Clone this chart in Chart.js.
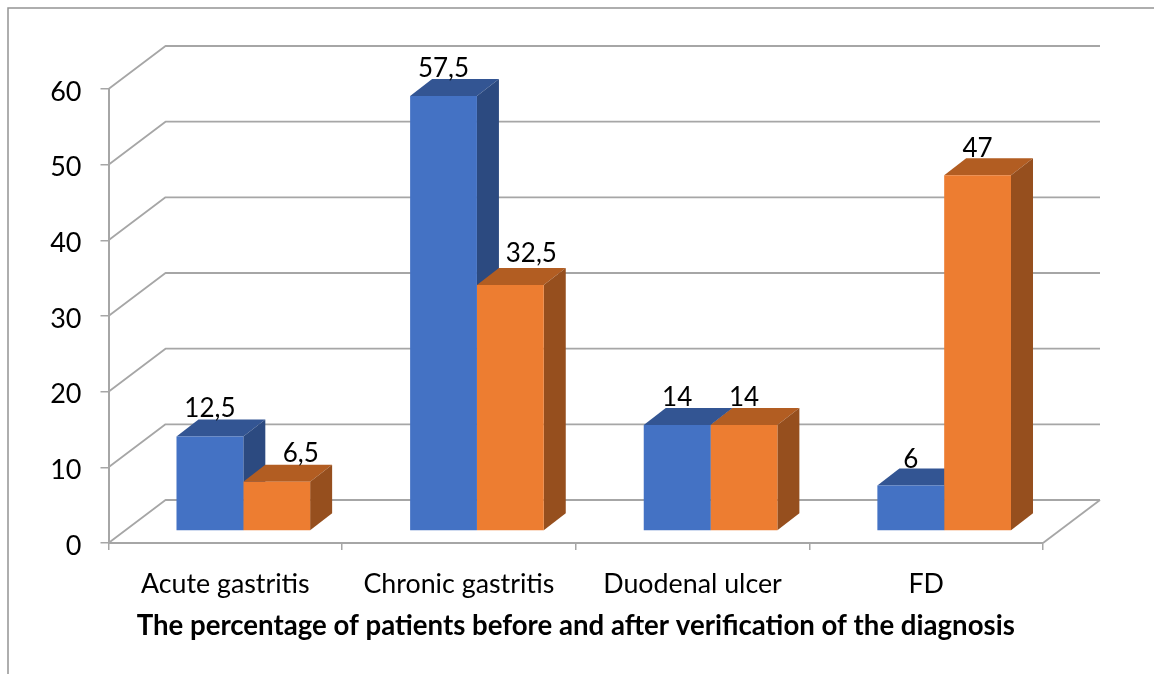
<!DOCTYPE html>
<html><head><meta charset="utf-8">
<style>html,body{margin:0;padding:0;background:#fff}canvas{display:block}</style>
<script src="https://cdn.jsdelivr.net/npm/chart.js@4"></script>
</head><body><canvas id="c" width="1154" height="674"></canvas>
<script>
const categories = ["Acute gastritis","Chronic gastritis","Duodenal ulcer","FD"];
const beforeValues = [12.5,57.5,14,6];
const afterValues = [6.5,32.5,14,47];
const axisTitle = "The percentage of patients before and after verification of the diagnosis";
const FONT = "Lato";
const GRID = "#a6a6a6";
const WALL = {dx:57,dy:-43};      // back wall offset from the axes
const BAR = {dx:18,dy:-12};       // bars stand a little behind the axis plane
const SIDE = {dx:22,dy:-17};      // bar depth
const faces = [
  {front:"#4472c4",top:"#335593",side:"#2c4a80"},
  {front:"#ed7d31",top:"#b25d22",side:"#964f1e"}
];
const labelNudge = [[[0,-2],[0,-2],[0,-2],[0,-1]],[[24,-3],[21,-6],[0,-2],[0,-1]]];

const scene3d = {
  id:"scene3d",
  beforeDraw(chart){
    const c=chart.ctx;
    c.save();c.strokeStyle="#949494";c.lineWidth=1.5;
    c.beginPath();c.moveTo(8,674);c.lineTo(8,8);c.lineTo(1154,8);c.stroke();c.restore();
  },
  beforeDatasetsDraw(chart){
    const c=chart.ctx,y=chart.scales.y,a=chart.chartArea;
    c.save();c.strokeStyle=GRID;c.lineWidth=1.8;c.lineJoin="round";
    y.ticks.forEach((t,i)=>{
      const p=y.getPixelForTick(i);
      c.beginPath();c.moveTo(a.left,p);c.lineTo(a.left+WALL.dx,p+WALL.dy);c.lineTo(a.right+WALL.dx,p+WALL.dy);c.stroke();
    });
    const p0=y.getPixelForValue(0);
    c.beginPath();c.moveTo(a.right,p0);c.lineTo(a.right+WALL.dx,p0+WALL.dy);c.stroke();
    c.restore();
    c.save();c.translate(BAR.dx,BAR.dy);
    chart.data.datasets.forEach((ds,di)=>{
      const f=faces[di];
      chart.getDatasetMeta(di).data.forEach(b=>{
        const l=b.x-b.width/2,r=b.x+b.width/2;
        c.fillStyle=f.top;c.beginPath();
        c.moveTo(l,b.y);c.lineTo(l+SIDE.dx,b.y+SIDE.dy);c.lineTo(r+SIDE.dx,b.y+SIDE.dy);c.lineTo(r,b.y);c.closePath();c.fill();
        c.fillStyle=f.side;c.beginPath();
        c.moveTo(r,b.y);c.lineTo(r+SIDE.dx,b.y+SIDE.dy);c.lineTo(r+SIDE.dx,b.base+SIDE.dy);c.lineTo(r,b.base);c.closePath();c.fill();
      });
    });
    c.restore();
  },
  beforeDatasetDraw(chart){ chart.ctx.save(); chart.ctx.translate(BAR.dx,BAR.dy); },
  afterDatasetDraw(chart){ chart.ctx.restore(); },
  afterDatasetsDraw(chart){
    const c=chart.ctx;
    c.save();c.font="26px "+FONT;c.fillStyle="#000";c.textAlign="center";c.textBaseline="alphabetic";
    chart.data.datasets.forEach((ds,di)=>{
      chart.getDatasetMeta(di).data.forEach((b,i)=>{
        const n=labelNudge[di][i];
        c.fillText(String(ds.data[i]).replace(".",","),b.x+BAR.dx+n[0],b.y+BAR.dy+SIDE.dy+n[1]);
      });
    });
    c.restore();
  }
};

new Chart(document.getElementById("c"),{
  type:"bar",
  data:{labels:categories,datasets:[
    {label:"Before",data:beforeValues,backgroundColor:faces[0].front,clip:false,barPercentage:1,categoryPercentage:0.572},
    {label:"After",data:afterValues,backgroundColor:faces[1].front,clip:false,barPercentage:1,categoryPercentage:0.572}
  ]},
  options:{
    responsive:false,animation:false,devicePixelRatio:1,
    layout:{padding:{top:89,right:111,left:0,bottom:0}},
    plugins:{legend:{display:false},tooltip:{enabled:false}},
    scales:{
      x:{
        afterFit(s){s.height=131;},
        grid:{display:true,drawOnChartArea:false,drawTicks:true,tickLength:7,color:GRID,lineWidth:1.5},
        border:{display:true,color:GRID,width:2},
        ticks:{color:"#000",font:{family:FONT,size:26.8},padding:18,maxRotation:0},
        title:{display:true,text:axisTitle,color:"#000",font:{family:FONT,size:27.6,weight:"bold"},padding:{top:6,bottom:31}}
      },
      y:{
        min:0,max:60,
        afterFit(s){s.width=108.5;},
        grid:{display:true,drawOnChartArea:false,drawTicks:true,tickLength:8,color:GRID,lineWidth:1.5},
        border:{display:true,color:GRID,width:2},
        ticks:{stepSize:10,color:"#000",font:{family:FONT,size:27},padding:19,labelOffset:3}
      }
    }
  },
  plugins:[scene3d]
});
</script></body></html>
